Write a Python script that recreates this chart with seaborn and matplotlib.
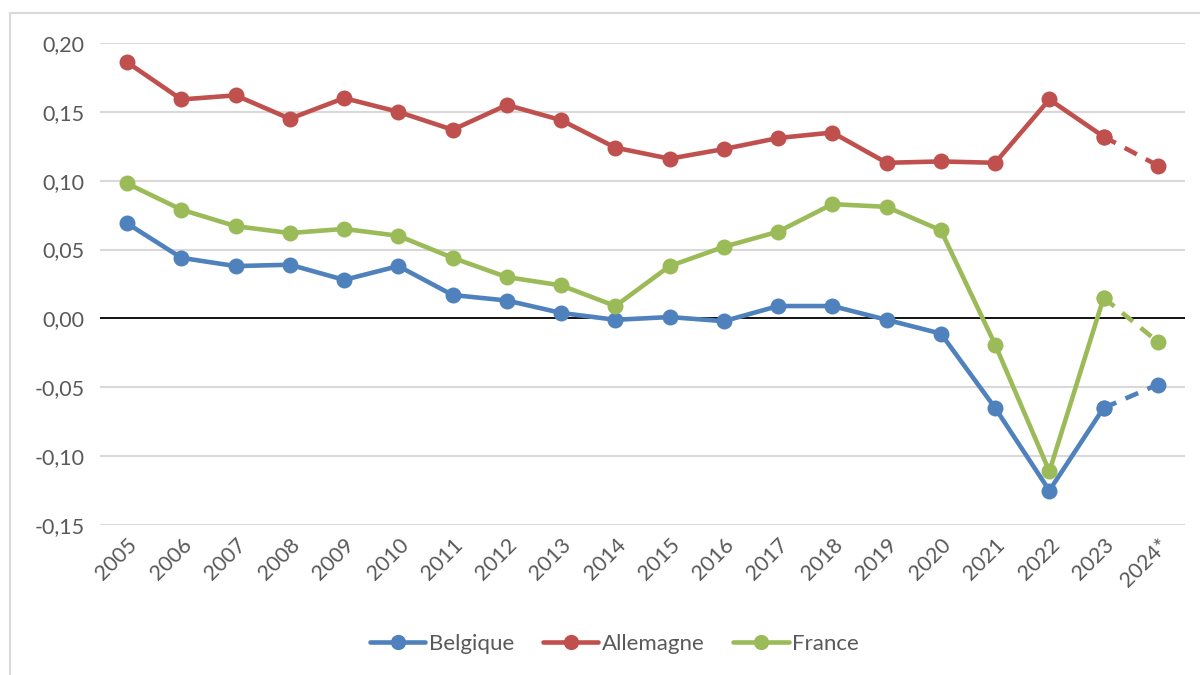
import matplotlib
matplotlib.use("Agg")
import matplotlib.pyplot as plt
from matplotlib.ticker import FuncFormatter, FixedLocator
from matplotlib.lines import Line2D
from matplotlib.patches import Rectangle
import seaborn as sns
import pandas as pd

years = ["2005", "2006", "2007", "2008", "2009", "2010", "2011", "2012", "2013", "2014",
         "2015", "2016", "2017", "2018", "2019", "2020", "2021", "2022", "2023", "2024*"]

belgique = [0.069, 0.044, 0.038, 0.039, 0.028, 0.038, 0.017, 0.013, 0.004, -0.001,
            0.001, -0.002, 0.009, 0.009, -0.001, -0.011, -0.065, -0.125, -0.065, -0.048]
allemagne = [0.186, 0.159, 0.162, 0.145, 0.160, 0.150, 0.137, 0.155, 0.144, 0.124,
             0.116, 0.123, 0.131, 0.135, 0.113, 0.114, 0.113, 0.159, 0.132, 0.111]
france = [0.098, 0.079, 0.067, 0.062, 0.065, 0.060, 0.044, 0.030, 0.024, 0.009,
          0.038, 0.052, 0.063, 0.083, 0.081, 0.064, -0.019, -0.111, 0.015, -0.017]

series = {"Belgique": belgique, "Allemagne": allemagne, "France": france}
colors = {"Belgique": "#4F81BD", "Allemagne": "#C0504D", "France": "#9BBB59"}

rows = []
for name, vals in series.items():
    for i, v in enumerate(vals):
        rows.append({"pos": i, "year": years[i], "pays": name, "valeur": v})
df = pd.DataFrame(rows)

n_obs = len(years) - 1  # last year is an estimate
df_obs = df[df["pos"] <= n_obs - 1]
df_est = df[df["pos"] >= n_obs - 1]

sns.set_style("white")
plt.rcParams["font.family"] = ["Lato", "DejaVu Sans"]
text_col = "#595959"

fig = plt.figure(figsize=(12, 6.75), dpi=100)
ax = fig.add_axes([100 / 1200, 1 - 525 / 675, 1085 / 1200, (525 - 43) / 675])

# grid
for y in [-0.15, -0.10, -0.05, 0.05, 0.10, 0.15, 0.20]:
    ax.axhline(y, color="#D9D9D9", lw=1.5, zorder=0)
ax.axhline(0, color="black", lw=1.3, zorder=1)

sns.lineplot(data=df_obs, x="pos", y="valeur", hue="pays", palette=colors,
             marker="o", markersize=11.5, markeredgewidth=0, linewidth=3.3,
             legend=False, ax=ax, zorder=3)
sns.lineplot(data=df_est, x="pos", y="valeur", hue="pays", palette=colors,
             marker="o", markersize=11.5, markeredgewidth=0, linewidth=3.3,
             dashes=False, legend=False, ax=ax, zorder=3)
for line in ax.get_lines()[-3:]:
    line.set_dashes([3, 2.2])

ax.set_xlim(-0.5, len(years) - 0.5)
ax.set_ylim(-0.15, 0.20)
ax.xaxis.set_major_locator(FixedLocator(range(len(years))))
ax.set_xticklabels(years, rotation=45, ha="right", rotation_mode="anchor")
ax.yaxis.set_major_locator(FixedLocator([-0.15, -0.10, -0.05, 0.0, 0.05, 0.10, 0.15, 0.20]))
ax.yaxis.set_major_formatter(FuncFormatter(lambda v, _: f"{v:.2f}".replace(".", ",")))
ax.tick_params(axis="both", labelsize=15.5, colors=text_col, length=0)
ax.tick_params(axis="y", pad=11)
ax.tick_params(axis="x", pad=7)
ax.set_xlabel("")
ax.set_ylabel("")
for s in ax.spines.values():
    s.set_visible(False)

handles = [Line2D([0], [0], color=colors[k], lw=3.3, marker="o", markersize=11,
                  markeredgewidth=0) for k in series]
fig.legend(handles, list(series.keys()), loc="center", bbox_to_anchor=(0.512, 1 - 644 / 675),
           ncol=3, frameon=False, fontsize=16, labelcolor=text_col,
           handlelength=2.5, handletextpad=0.15, columnspacing=1.3)

fig.patches.append(Rectangle((10 / 1200, -0.01), 1.02, 1 - 13 / 675 + 0.01,
                             transform=fig.transFigure, fill=False,
                             edgecolor="#D9D9D9", lw=1.5))

fig.savefig("out.png", dpi=100)
